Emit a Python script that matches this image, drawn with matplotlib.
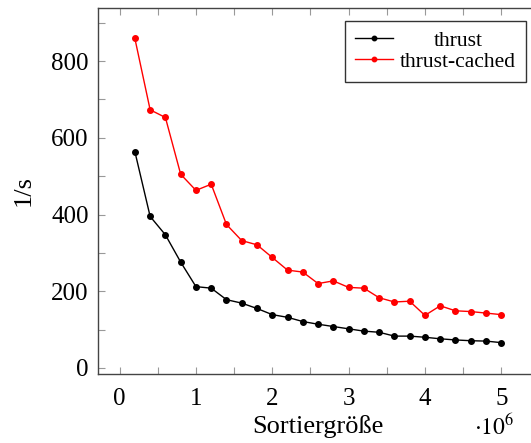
import matplotlib
matplotlib.use("Agg")
import matplotlib.pyplot as plt
from matplotlib.ticker import MultipleLocator, FuncFormatter

plt.rcParams['font.family'] = ['Liberation Serif', 'DejaVu Serif']
plt.rcParams['font.size'] = 18

# sort sizes in units of 10^6
sizes = [0.2, 0.4, 0.6, 0.8, 1.0, 1.2, 1.4, 1.6, 1.8, 2.0, 2.2, 2.4, 2.6,
         2.8, 3.0, 3.2, 3.4, 3.6, 3.8, 4.0, 4.2, 4.4, 4.6, 4.8, 5.0]
thrust = [564, 395, 347, 276, 212, 208, 178, 169, 155, 139, 132, 121, 114,
          108, 102, 96, 93, 83, 83, 80, 76, 73, 71, 70, 66]
thrust_cached = [859, 673, 653, 505, 463, 479, 374, 332, 321, 288, 255, 250, 220,
                 227, 210, 208, 183, 172, 174, 137, 162, 149, 147, 143, 139]

fig = plt.figure(figsize=(5.31, 4.43), dpi=100)
ax = fig.add_axes([0.185, 0.156, 1.013 - 0.185, 0.982 - 0.156])

ax.plot(sizes, thrust, color='black', marker='o', markersize=4, linewidth=1,
        label='thrust')
ax.plot(sizes, thrust_cached, color='red', marker='o', markersize=4, linewidth=1,
        label='thrust-cached')

ax.set_xlim(0.2 - 0.48, 5.0 + 0.48)
ax.set_ylim(64 - 79.5, 859 + 79.5)

ax.xaxis.set_major_locator(MultipleLocator(1))
ax.xaxis.set_minor_locator(MultipleLocator(0.5))
ax.yaxis.set_major_locator(MultipleLocator(200))
ax.yaxis.set_minor_locator(MultipleLocator(100))
ax.xaxis.set_major_formatter(FuncFormatter(lambda v, p: f"{v:.0f}"))
ax.yaxis.set_major_formatter(FuncFormatter(lambda v, p: f"{v:.0f}"))

ax.tick_params(which='both', direction='in', top=True, right=True,
               length=5, width=0.8, color='#999999', labelsize=18)
ax.tick_params(axis='x', pad=10)
ax.tick_params(axis='y', pad=7)
for s in ax.spines.values():
    s.set_color('#444444')
    s.set_linewidth(1.0)

ax.set_xlabel('Sortiergröße', fontsize=19, labelpad=4)
ax.set_ylabel('1/s', fontsize=19, labelpad=12)
ax.text(0.901, -0.167, r'$\cdot 10^6$', transform=ax.transAxes, ha='center',
        va='baseline', fontsize=17, math_fontfamily='stix')

leg = ax.legend(loc='upper left', bbox_to_anchor=(345 / 531, 1 - 21 / 443),
                bbox_transform=fig.transFigure, borderaxespad=0, fancybox=False,
                edgecolor='#333333', framealpha=1, borderpad=0.45,
                handlelength=1.8, handletextpad=0.3, labelspacing=0.05,
                markerscale=0.8, fontsize=15.5)
leg.get_frame().set_linewidth(1.0)

# center the short label over the long one, like the original legend
fig.canvas.draw()
t0, t1 = leg.get_texts()
b0 = t0.get_window_extent()
b1 = t1.get_window_extent()
cx = (b1.x0 + b1.x1) / 2
inv = fig.transFigure.inverted()
fx, fy = inv.transform((cx, b0.y0))
t0.set_alpha(0)
fig.text(fx, fy, t0.get_text(), ha='center', va='bottom', fontsize=15.5)

fig.savefig('out.png', dpi=100)
